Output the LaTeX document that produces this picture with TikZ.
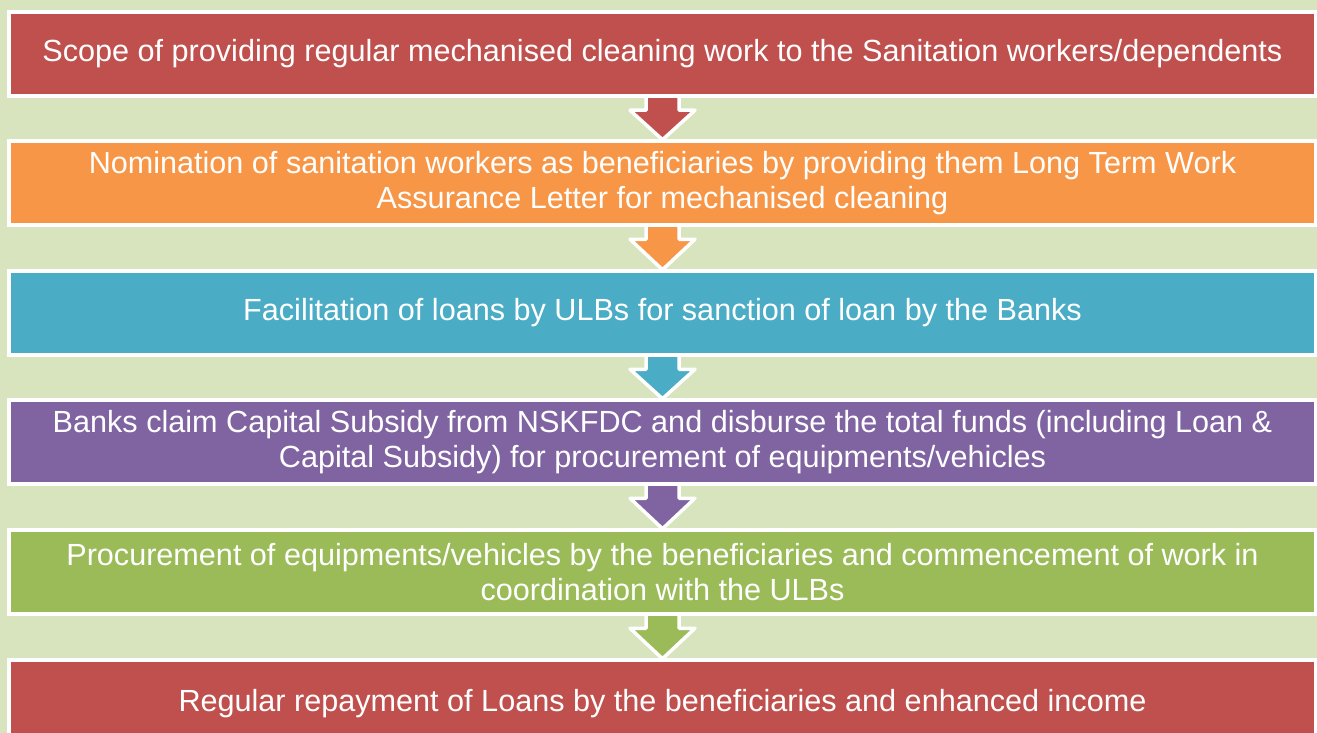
\documentclass[tikz,border=0pt]{standalone}
\usepackage{fontspec}
\setmainfont{Liberation Sans}
\usetikzlibrary{calc}
\definecolor{bgc}{HTML}{D7E4BD}
\definecolor{cred}{HTML}{C0504D}
\definecolor{corange}{HTML}{F79646}
\definecolor{cblue}{HTML}{4BACC6}
\definecolor{cpurple}{HTML}{8064A2}
\definecolor{cgreen}{HTML}{9BBB59}
\tikzset{
  stepbox/.style={rectangle, draw=white, line width=4.5pt, minimum width=1307pt, minimum height=84pt,
    inner sep=0pt, text=white, align=center, font=\fontsize{30.6}{35}\selectfont},
  downarrow/.style={draw=white, line width=3.5pt, line join=round}
}
\begin{document}
\begin{tikzpicture}[x=1pt,y=-1pt]
\fill[bgc] (0,0) rectangle (1317,733);
\useasboundingbox (0,0) rectangle (1317,733);
% coordinates for box centres
\coordinate (p1) at (662.5,54);
\coordinate (p2) at (662.5,183);
\coordinate (p3) at (662.5,313);
\coordinate (p4) at (662.5,442);
\coordinate (p5) at (662.5,572);
\coordinate (p6) at (662.5,702);
% invisible placeholders to get anchors for arrows
\foreach \i in {1,...,6}{\node[stepbox, draw=none, fill=none] (a\i) at (p\i) {};}
% arrows
\foreach \i/\j/\c in {1/2/cred,2/3/corange,3/4/cblue,4/5/cpurple,5/6/cgreen}{
  \draw[downarrow, fill=\c] ($(a\i.south)+(-16.5,-8)$) -- ($(a\i.south)+(-16.5,12)$) -- ($(a\i.south)+(-32.5,12)$)
    -- ($(a\j.north)+(0,1)$) -- ($(a\i.south)+(32.5,12)$) -- ($(a\i.south)+(16.5,12)$) -- ($(a\i.south)+(16.5,-8)$) -- cycle;
}
% boxes
\node[stepbox, fill=cred] (b1) at (p1) {Scope of providing regular mechanised cleaning work to the Sanitation workers/dependents};
\node[stepbox, fill=corange] (b2) at (p2) {Nomination of sanitation workers as beneficiaries by providing them Long Term Work\\Assurance Letter for mechanised cleaning};
\node[stepbox, fill=cblue] (b3) at (p3) {Facilitation of loans by ULBs for sanction of loan by the Banks};
\node[stepbox, fill=cpurple] (b4) at (p4) {Banks claim Capital Subsidy from NSKFDC and disburse the total funds (including Loan \&\\Capital Subsidy) for procurement of equipments/vehicles};
\node[stepbox, fill=cgreen] (b5) at (p5) {Procurement of equipments/vehicles by the beneficiaries and commencement of work in\\coordination with the ULBs};
\node[stepbox, fill=cred] (b6) at (p6) {};
\node[text=white, font=\fontsize{30.6}{35}\selectfont] (t6) at (662.5,704) {Regular repayment of Loans by the beneficiaries and enhanced income};
\end{tikzpicture}
\end{document}
